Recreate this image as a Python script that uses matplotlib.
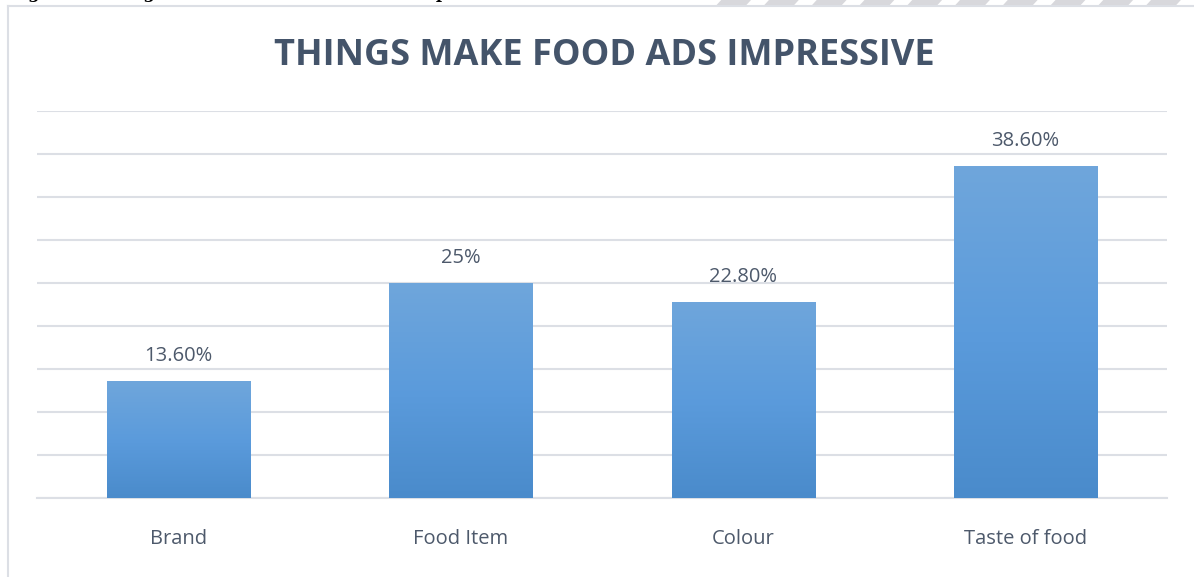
import numpy as np
import matplotlib.pyplot as plt
from matplotlib.patches import Polygon

categories = ["Brand", "Food Item", "Colour", "Taste of food"]
shares = [13.6, 25.0, 22.8, 38.6]
share_labels = ["13.60%", "25%", "22.80%", "38.60%"]
grid_ticks = [0, 5, 10, 15, 20, 25, 30, 35, 40, 45]

title_color = "#44546A"
text_color = "#4D596B"
grid_color = "#DCDFE5"

fig = plt.figure(figsize=(11.94, 5.77), dpi=100)
fig.patch.set_facecolor("white")

# chart frame (cut by the page edges on the right and bottom)
fig.add_artist(plt.Line2D([0.0065, 0.0065], [0, 0.99], color=grid_color, lw=1.5,
                          transform=fig.transFigure))
fig.add_artist(plt.Line2D([0.0065, 1.0], [0.99, 0.99], color=grid_color, lw=1.5,
                          transform=fig.transFigure))

# clipped caption of the source document and the faint watermark stripes
fig.text(0.008, 1.003, "Figure 7: Things make food advertisement impressive",
         family="DejaVu Serif", weight="bold", fontsize=12, color="black",
         ha="left", va="baseline")
for x0 in np.arange(0.60, 1.0, 0.04):
    fig.add_artist(Polygon([[x0, 0.991], [x0 + 0.025, 0.991], [x0 + 0.029, 1.0], [x0 + 0.004, 1.0]],
                           closed=True, transform=fig.transFigure, color="#D8D8DC", lw=0))

ax = fig.add_axes([0.0314, 0.1369, 0.9456, 0.6707])
x = np.arange(len(categories))
bars = ax.bar(x, shares, width=0.507, color="#5B9BD5", zorder=2)

# vertical gradient inside each bar
grad = np.linspace(0, 1, 256).reshape(-1, 1)
cmap = plt.matplotlib.colors.LinearSegmentedColormap.from_list("bar", ["#4A8BCB", "#5B9BDC", "#6FA6DB"])
for b in bars:
    x0, y0 = b.get_x(), b.get_y()
    im = ax.imshow(grad, cmap=cmap, origin="lower", aspect="auto",
                   extent=[x0, x0 + b.get_width(), y0, y0 + b.get_height()], zorder=3)
    im.set_clip_path(b)

for xi, v, lab in zip(x, shares, share_labels):
    ax.annotate(lab, (xi, v), xytext=(0, 11), textcoords="offset points",
                ha="center", va="bottom", fontsize=14.5, color=text_color, family="Open Sans")

ax.set_xlim(-0.5, len(categories) - 0.5)
ax.set_ylim(0, 45)
ax.set_yticks(grid_ticks)
ax.yaxis.grid(True, color=grid_color, lw=1.5, zorder=0)
ax.set_axisbelow(True)
ax.tick_params(axis="y", left=False, labelleft=False)
ax.set_xticks(x)
ax.set_xticklabels(categories, fontsize=14.5, color=text_color, family="Open Sans")
ax.tick_params(axis="x", length=0, pad=22)
for s in ["top", "right", "left"]:
    ax.spines[s].set_visible(False)
ax.spines["bottom"].set_color(grid_color)
ax.spines["bottom"].set_linewidth(1.5)

fig.text(0.506, 0.903, "THINGS MAKE FOOD ADS IMPRESSIVE", ha="center", va="center",
         fontsize=26, weight="bold", color=title_color, family="Open Sans")

fig.savefig("out.png", dpi=100)
